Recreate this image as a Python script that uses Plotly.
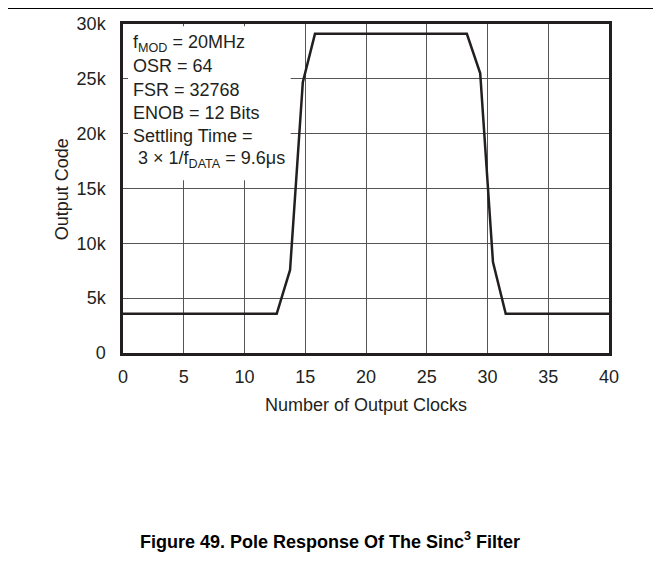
import plotly.graph_objects as go

# ---- data ----
clocks = [0, 1, 2, 3, 4, 5, 6, 7, 8, 9, 10, 11, 12, 12.65, 13.75, 14.8, 15.8,
          17, 18, 19, 20, 21, 22, 23, 24, 25, 26, 27, 28.3, 29.4, 30.45, 31.5,
          32.5, 33.5, 34.5, 35.5, 36.5, 37.5, 38.5, 39.5, 40]
output_code = [3580, 3580, 3590, 3570, 3540, 3560, 3570, 3570, 3570, 3570, 3570, 3570, 3570, 3570, 7570, 24700, 29100,
               29100, 29100, 29100, 29100, 29110, 29110, 29100, 29120, 29110, 29100, 29100, 29110, 25500, 8300, 3580,
               3580, 3560, 3570, 3570, 3570, 3570, 3570, 3570, 3570]
x_ticks = [0, 5, 10, 15, 20, 25, 30, 35, 40]
y_ticks = [0, 5000, 10000, 15000, 20000, 25000, 30000]
y_tick_labels = ["0", "5k", "10k", "15k", "20k", "25k", "30k"]
notes = ["f<sub>MOD</sub> = 20MHz", "OSR = 64", "FSR = 32768", "ENOB = 12 Bits",
         "Settling Time =", " 3 × 1/f<sub>DATA</sub> = 9.6μs"]
x_title = "Number of Output Clocks"
y_title = "Output Code"
title_text = "Figure 49. Pole Response Of The Sinc<sup>3</sup> Filter"

FONT = "Liberation Sans, Arial, Helvetica, sans-serif"
INK = "#231f20"

fig = go.Figure()
fig.add_trace(go.Scatter(x=clocks, y=output_code, mode="lines",
                         line=dict(color=INK, width=2.5), showlegend=False,
                         hoverinfo="skip"))

OFF = 8  # page body margin
W, H = 661, 566
# plot area in page pixels: x 122.7..609.3, y 24..353
L = 122.7 - OFF
T = 24 - OFF
pw = 609.3 - 122.7
ph = 353 - 24
R = W - L - pw
B = H - T - ph


def px_x(p):
    return (p - OFF - L) / pw


def px_y(p):
    return (T + ph - (p - OFF)) / ph


# white box behind the notes (covers grid)
fig.add_shape(type="rect", xref="x", yref="y", x0=0.35, x1=13.8,
              y0=15750, y1=29800, fillcolor="white",
              line=dict(width=0), layer="between")

for i, t in enumerate(notes):
    fig.add_annotation(x=px_x(131), xref="paper", y=px_y(43 + i * 23.3),
                       yref="paper", text=t, showarrow=False, xanchor="left",
                       yanchor="middle", align="left",
                       font=dict(family=FONT, size=18, color=INK))

# top rule
fig.add_shape(type="line", xref="paper", yref="paper", x0=px_x(0), x1=px_x(W + 10),
              y0=px_y(8), y1=px_y(8), line=dict(color="black", width=2))

# axis titles
fig.add_annotation(x=px_x(366), xref="paper", y=px_y(405), yref="paper",
                   text=x_title, showarrow=False, xanchor="center", yanchor="middle",
                   font=dict(family=FONT, size=18, color=INK))
fig.add_annotation(x=px_x(62), xref="paper", y=px_y(189), yref="paper",
                   text=y_title, showarrow=False, xanchor="center", yanchor="middle",
                   textangle=-90, font=dict(family=FONT, size=18, color=INK))

fig.add_annotation(x=px_x(330), xref="paper", y=px_y(540), yref="paper",
                   text="<b>" + title_text + "</b>", showarrow=False,
                   xanchor="center", yanchor="middle",
                   font=dict(family=FONT, size=18, color="black"))

axis_common = dict(showgrid=True, gridcolor="#555555", gridwidth=1,
                   showline=True, linecolor=INK, linewidth=2.5, mirror=True,
                   ticks="inside", ticklen=5, tickcolor="#555555", tickwidth=1,
                   zeroline=False, automargin=False,
                   tickfont=dict(family=FONT, size=18, color=INK))

fig.update_xaxes(range=[0, 40], tickvals=x_ticks, ticklabelstandoff=6, **axis_common)
fig.update_yaxes(range=[0, 30000], tickvals=y_ticks, ticktext=y_tick_labels,
                 ticklabelstandoff=11, **axis_common)

fig.update_layout(width=W, height=H, margin=dict(l=L, r=R, t=T, b=B),
                  plot_bgcolor="white", paper_bgcolor="white",
                  font=dict(family=FONT, color=INK))

fig.write_html("out.html")
